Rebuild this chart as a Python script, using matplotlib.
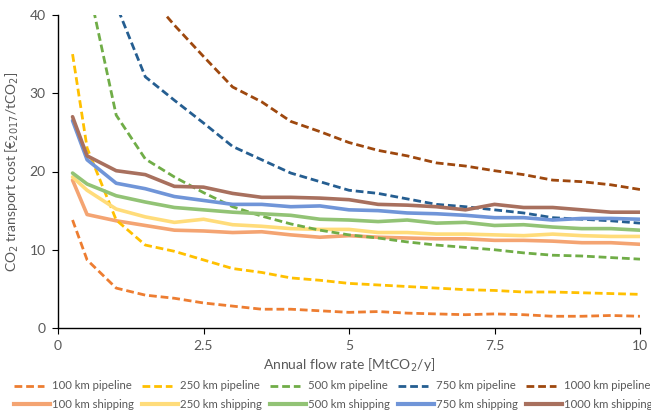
import matplotlib
matplotlib.use("Agg")
import matplotlib.pyplot as plt
from matplotlib.lines import Line2D

# flow rates [MtCO2/y]
flow = [0.25, 0.5, 1, 1.5, 2, 2.5, 3, 3.5, 4, 4.5, 5, 5.5, 6, 6.5, 7, 7.5, 8, 8.5, 9, 9.5, 10]

# pipeline cost [EUR2017/tCO2]
pipe_100 = [13.8, 8.7, 5.1, 4.2, 3.8, 3.2, 2.8, 2.4, 2.4, 2.2, 2.0, 2.1, 1.9, 1.8, 1.7, 1.8, 1.7, 1.5, 1.5, 1.6, 1.5]
pipe_250 = [35.0, 23.0, 13.8, 10.6, 9.8, 8.7, 7.6, 7.1, 6.4, 6.1, 5.7, 5.5, 5.3, 5.1, 4.9, 4.8, 4.6, 4.6, 4.5, 4.4, 4.3]
pipe_500 = [90, 44.5, 27.2, 21.6, 19.3, 17.3, 15.5, 14.3, 13.3, 12.5, 11.9, 11.5, 11.0, 10.6, 10.3, 10.0, 9.6, 9.3, 9.2, 9.0, 8.8]
pipe_750 = [130, 70, 41.3, 32.1, 29.1, 26.2, 23.2, 21.5, 19.8, 18.7, 17.6, 17.2, 16.5, 15.8, 15.5, 15.1, 14.7, 14.1, 13.9, 13.7, 13.4]
pipe_1000 = [180, 100, 58, 43, 38.7, 34.7, 30.8, 28.9, 26.4, 25.1, 23.7, 22.7, 22.0, 21.1, 20.7, 20.1, 19.6, 18.9, 18.7, 18.3, 17.7]

# shipping cost [EUR2017/tCO2]
ship_100 = [18.9, 14.5, 13.7, 13.1, 12.5, 12.4, 12.2, 12.3, 11.9, 11.6, 11.8, 11.6, 11.5, 11.4, 11.4, 11.2, 11.2, 11.1, 10.9, 10.9, 10.7]
ship_250 = [19.3, 17.6, 15.2, 14.2, 13.5, 13.9, 13.2, 13.0, 12.7, 12.6, 12.6, 12.2, 12.2, 12.0, 12.0, 11.9, 11.8, 12.0, 11.8, 11.7, 11.7]
ship_500 = [19.8, 18.4, 16.9, 16.1, 15.4, 15.1, 14.8, 14.6, 14.4, 13.9, 13.8, 13.6, 13.8, 13.4, 13.5, 13.1, 13.2, 12.9, 12.7, 12.7, 12.5]
ship_750 = [26.5, 21.5, 18.5, 17.8, 16.8, 16.3, 15.8, 15.8, 15.5, 15.6, 15.1, 15.0, 14.7, 14.6, 14.4, 14.1, 14.1, 13.8, 14.0, 14.0, 13.9]
ship_1000 = [27.0, 22.0, 20.1, 19.6, 18.1, 18.0, 17.2, 16.7, 16.7, 16.6, 16.4, 15.8, 15.7, 15.5, 15.1, 15.8, 15.4, 15.4, 15.1, 14.8, 14.8]

distances = ["100", "250", "500", "750", "1000"]
pipes = [pipe_100, pipe_250, pipe_500, pipe_750, pipe_1000]
ships = [ship_100, ship_250, ship_500, ship_750, ship_1000]
pipe_colors = ["#ED7D31", "#FFC000", "#70AD47", "#255E91", "#9E480E"]
ship_colors = ["#F4A472", "#FFDC7A", "#92C375", "#7095D8", "#A8705E"]

plt.rcParams['font.family'] = ['Lato', 'DejaVu Sans']
grey = "#595959"
W, H = 651, 412
dash = (0, (2.8, 1.4))

fig = plt.figure(figsize=(W/100, H/100), dpi=100)
ax = fig.add_axes([58/W, 1 - 328/H, 582/W, 313/H])

for i in range(5):
    ax.plot(flow, pipes[i], color=pipe_colors[i], lw=2.0, ls=dash)
    ax.plot(flow, ships[i], color=ship_colors[i], lw=2.6, solid_capstyle='round')

ax.set_xlim(0, 10)
ax.set_ylim(0, 40)
ax.set_xticks([0, 2.5, 5, 7.5, 10])
ax.set_xticklabels(["0", "2.5", "5", "7.5", "10"])
ax.set_yticks([0, 10, 20, 30, 40])
for s in ["top", "right"]:
    ax.spines[s].set_visible(False)
for s in ["left", "bottom"]:
    ax.spines[s].set_linewidth(1.0)
ax.tick_params(axis='both', labelsize=10, labelcolor=grey, length=4, width=0.8, pad=5)

ax.set_xlabel("Annual flow rate [MtCO$_2$/y]", fontsize=10, color=grey, labelpad=3)
ax.set_ylabel("CO$_2$ transport cost [€$_{2017}$/tCO$_2$]", fontsize=10, color=grey, labelpad=6)

# legend drawn by hand: 5 evenly spaced columns, pipeline row above shipping row
for i in range(5):
    x0 = 14 + 128*i
    y1 = 1 - 385.5/H
    y2 = 1 - 404/H
    fig.add_artist(Line2D([x0/W, (x0 + 30)/W], [y1, y1], transform=fig.transFigure,
                          color=pipe_colors[i], lw=2.0, ls=dash))
    fig.add_artist(Line2D([x0/W, (x0 + 36)/W], [y2, y2], transform=fig.transFigure,
                          color=ship_colors[i], lw=3.0))
    fig.text((x0 + 38)/W, y1, distances[i] + " km pipeline", fontsize=8.2,
             color=grey, va='center', ha='left')
    fig.text((x0 + 38)/W, y2, distances[i] + " km shipping", fontsize=8.2,
             color=grey, va='center', ha='left')

fig.savefig("out.png", dpi=100)
